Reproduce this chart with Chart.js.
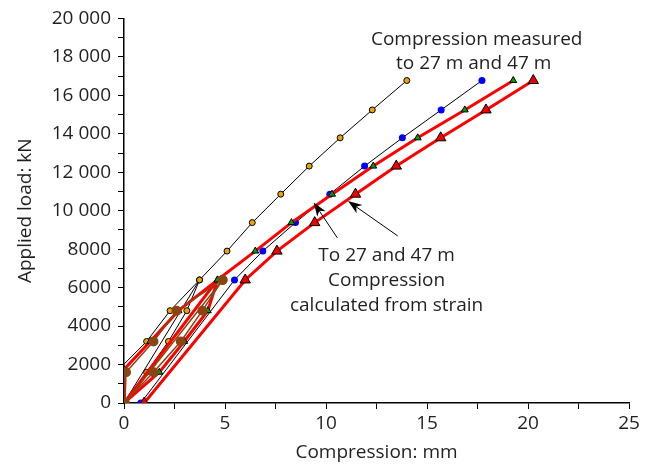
<!DOCTYPE html>
<html>
<head>
<meta charset="utf-8">
<script src="https://cdn.jsdelivr.net/npm/chart.js@4.4.0/dist/chart.umd.min.js"></script>
<style>
body { margin: 0; background: #fff; }
</style>
</head>
<body>
<canvas id="myChart" width="662" height="469"></canvas>
<script>
// load steps, kN
var loadsFirst = [0, 1600, 3200, 4800, 6400, 4800, 3200, 1600, 0, 6400];
var loadsMain = [7900, 9380, 10860, 12320, 13790, 15240, 16770];

// compression measured (black lines)
var orangeX = [0, 1.12, 2.2, 3.11, 3.74, 2.28, 1.12, -0.4, 0, 3.74, 5.1, 6.35, 7.76, 9.17, 10.7, 12.29, 14.0];
var orangeY = loadsFirst.concat(loadsMain);
var blueX = [0.83, 5.47, 6.87, 8.49, 10.19, 11.91, 13.78, 15.7, 17.72];
var blueY = [0, 6400].concat(loadsMain);

// compression calculated from strain (red lines)
var greenX = [0, 1.75, 2.98, 4.15, 4.63, 2.7, 1.3, 0, 0, 4.63, 6.5, 8.29, 10.3, 12.34, 14.54, 16.87, 19.27];
var greenY = [0, 1600, 3200, 4800, 6400, 4800, 3200, 1750, 0, 6400].concat(loadsMain);
var redX = [1.0, 6.0, 7.57, 9.44, 11.46, 13.48, 15.68, 17.92, 20.26];
var redY = [0, 6400].concat(loadsMain);

// pile head loop
var brownX = [0, 1.46, 2.81, 3.88, 4.88, 2.6, 1.46, 0.1, 0.05, 4.88];
var brownY = [0, 1600, 3200, 4800, 6400, 4800, 3200, 1600, 0, 6400];

var notes = [
  {x: 17.46, y: 18900, text: 'Compression measured'},
  {x: 17.31, y: 17650, text: 'to 27 m and 47 m'},
  {x: 13.0, y: 7640, text: 'To 27 and 47 m'},
  {x: 13.0, y: 6340, text: 'Compression'},
  {x: 13.0, y: 5050, text: 'calculated from strain'}
];
var arrows = [
  {x1: 10.56, y1: 8590, x2: 9.39, y2: 10430},
  {x1: 13.55, y1: 8690, x2: 11.09, y2: 10500}
];

function pts(xs, ys) {
  var out = [];
  for (var i = 0; i < xs.length; i++) out.push({x: xs[i], y: ys[i]});
  return out;
}

function fmt(v) {
  if (v >= 10000) {
    var s = String(v);
    return s.slice(0, s.length - 3) + ' ' + s.slice(s.length - 3);
  }
  return String(v);
}

var textColor = '#231f20';
var fontFamily = "'Open Sans', 'Noto Sans', sans-serif";

var notePlugin = {
  id: 'notes',
  afterDatasetsDraw: function(chart) {
    var c = chart.ctx, xs = chart.scales.x, ys = chart.scales.y;
    c.save();
    c.fillStyle = textColor;
    c.font = '19px ' + fontFamily;
    c.textAlign = 'center';
    c.textBaseline = 'middle';
    notes.forEach(function(n) {
      c.fillText(n.text, xs.getPixelForValue(n.x), ys.getPixelForValue(n.y));
    });
    c.strokeStyle = '#000';
    c.fillStyle = '#000';
    c.lineWidth = 1;
    arrows.forEach(function(a) {
      var x1 = xs.getPixelForValue(a.x1), y1 = ys.getPixelForValue(a.y1);
      var x2 = xs.getPixelForValue(a.x2), y2 = ys.getPixelForValue(a.y2);
      var ang = Math.atan2(y2 - y1, x2 - x1);
      c.beginPath();
      c.moveTo(x1, y1);
      c.lineTo(x2 - 8 * Math.cos(ang), y2 - 8 * Math.sin(ang));
      c.stroke();
      c.beginPath();
      c.moveTo(x2, y2);
      c.lineTo(x2 - 14 * Math.cos(ang) + 5 * Math.sin(ang), y2 - 14 * Math.sin(ang) - 5 * Math.cos(ang));
      c.lineTo(x2 - 10 * Math.cos(ang), y2 - 10 * Math.sin(ang));
      c.lineTo(x2 - 14 * Math.cos(ang) - 5 * Math.sin(ang), y2 - 14 * Math.sin(ang) + 5 * Math.cos(ang));
      c.closePath();
      c.fill();
    });
    c.restore();
  }
};

var ctx = document.getElementById('myChart').getContext('2d');
var myChart = new Chart(ctx, {
  type: 'scatter',
  data: {
    datasets: [
      {
        label: 'Pile head',
        data: pts(brownX, brownY),
        showLine: true,
        borderColor: '#8b4513',
        borderWidth: 1.5,
        backgroundColor: '#8b4513',
        pointBorderColor: '#8b4513',
        pointRadius: 5,
        pointBorderWidth: 0
      },
      {
        label: 'Calculated 47 m',
        data: pts(redX, redY),
        showLine: true,
        borderColor: '#ff0000',
        borderWidth: 3,
        backgroundColor: '#ee0000',
        pointStyle: 'triangle',
        pointBorderColor: '#000',
        pointBorderWidth: 1,
        pointRadius: 6
      },
      {
        label: 'Calculated 27 m',
        data: pts(greenX, greenY),
        showLine: true,
        borderColor: '#ff0000',
        borderWidth: 3,
        backgroundColor: '#00a000',
        pointStyle: 'triangle',
        pointBorderColor: '#000',
        pointBorderWidth: 1,
        pointRadius: 4
      },
      {
        label: 'Measured 27 m',
        data: pts(orangeX, orangeY),
        showLine: true,
        borderColor: '#000',
        borderWidth: 1,
        backgroundColor: '#e8a400',
        pointBorderColor: '#000',
        pointBorderWidth: 1,
        pointRadius: 3
      },
      {
        label: 'Measured 47 m',
        data: pts(blueX, blueY),
        showLine: true,
        borderColor: '#000',
        borderWidth: 1,
        backgroundColor: '#0000ff',
        pointBorderColor: '#0000ff',
        pointBorderWidth: 0,
        pointRadius: 3.5
      }
    ]
  },
  options: {
    responsive: false,
    animation: false,
    layout: { padding: { top: 12, right: 33, left: 0, bottom: 0 } },
    plugins: {
      legend: { display: false },
      tooltip: { enabled: false }
    },
    scales: {
      x: {
        min: 0,
        max: 25,
        afterFit: function(s) { s.height = 66; },
        border: { display: true, color: '#000', width: 1.5 },
        grid: { drawOnChartArea: false, drawTicks: true, tickLength: 6, color: '#000' },
        ticks: {
          stepSize: 2.5,
          autoSkip: false,
          maxRotation: 0,
          padding: 3,
          color: textColor,
          font: { family: fontFamily, size: 19 },
          callback: function(v) { return v % 5 === 0 ? String(v) : ''; }
        },
        title: {
          display: true,
          text: 'Compression: mm',
          color: textColor,
          font: { family: fontFamily, size: 19 },
          padding: { top: 0, bottom: 5 }
        }
      },
      y: {
        min: 0,
        max: 20000,
        afterFit: function(s) { s.width = 124; },
        border: { display: true, color: '#000', width: 1.5 },
        grid: { drawOnChartArea: false, drawTicks: true, tickLength: 6, color: '#000' },
        ticks: {
          stepSize: 1000,
          autoSkip: false,
          padding: 7,
          color: textColor,
          font: { family: fontFamily, size: 19 },
          callback: function(v) { return v % 2000 === 0 ? fmt(v) : ''; }
        },
        title: {
          display: true,
          text: 'Applied load: kN',
          color: textColor,
          font: { family: fontFamily, size: 19 },
          padding: { top: 14, bottom: 0 }
        }
      }
    }
  },
  plugins: [notePlugin]
});
</script>
</body>
</html>
